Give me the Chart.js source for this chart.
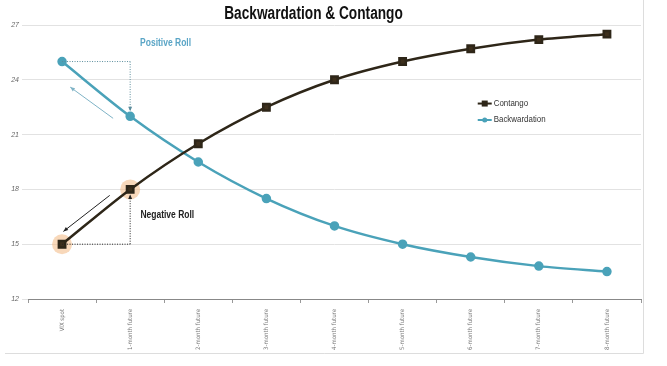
<!DOCTYPE html>
<html>
<head>
<meta charset="utf-8">
<script src="https://cdn.jsdelivr.net/npm/chart.js@4/dist/chart.umd.min.js"></script>
<style>
  html, body { margin: 0; padding: 0; background: #fff; }
  #wrap { width: 667px; height: 366px; }
</style>
</head>
<body>
<div id="wrap"><canvas id="chart1"></canvas></div>
<script>
const categories = ["VIX spot", "1-month future", "2-month future", "3-month future", "4-month future",
  "5-month future", "6-month future", "7-month future", "8-month future"];
const contango = [15, 18, 20.5, 22.5, 24, 25, 25.7, 26.2, 26.5];
const backwardation = [25, 22, 19.5, 17.5, 16, 15, 14.3, 13.8, 13.5];
const yTicks = [12, 15, 18, 21, 24, 27];
const chartTitle = "Backwardation & Contango";

const FONT = "'Liberation Sans', 'DejaVu Sans', sans-serif";
const DARK = "#2e2618";
const TEAL = "#4aa2b9";

function arrow(ctx, x1, y1, x2, y2, color, width, head) {
  const a = Math.atan2(y2 - y1, x2 - x1);
  ctx.save();
  ctx.strokeStyle = color;
  ctx.fillStyle = color;
  ctx.lineWidth = width;
  ctx.beginPath();
  ctx.moveTo(x1, y1);
  ctx.lineTo(x2, y2);
  ctx.stroke();
  ctx.setLineDash([]);
  ctx.beginPath();
  ctx.moveTo(x2, y2);
  ctx.lineTo(x2 - head * Math.cos(a - 0.4), y2 - head * Math.sin(a - 0.4));
  ctx.lineTo(x2 - head * Math.cos(a + 0.4), y2 - head * Math.sin(a + 0.4));
  ctx.closePath();
  ctx.fill();
  ctx.restore();
}

// condensed text: squeeze horizontally a bit to mimic the narrow face of the original
function narrowText(ctx, text, x, y, sx, align) {
  ctx.save();
  ctx.translate(x, y);
  ctx.scale(sx, 1);
  ctx.textAlign = align;
  ctx.fillText(text, 0, 0);
  ctx.restore();
}

const rollNotes = {
  id: "rollNotes",
  beforeDatasetsDraw(chart) {
    const ctx = chart.ctx;
    const xs = chart.scales.x, ys = chart.scales.y;
    ctx.save();
    ctx.fillStyle = "rgba(243,190,140,0.6)";
    [0, 1].forEach(i => {
      ctx.beginPath();
      ctx.arc(xs.getPixelForValue(i), ys.getPixelForValue(contango[i]), 10, 0, Math.PI * 2);
      ctx.fill();
    });
    ctx.restore();
  },
  afterDatasetsDraw(chart) {
    const ctx = chart.ctx;
    const xs = chart.scales.x, ys = chart.scales.y;
    const x0 = xs.getPixelForValue(0), x1 = xs.getPixelForValue(1);
    const dx = x1 - x0;

    // title
    ctx.save();
    ctx.font = "bold 18px " + FONT;
    ctx.fillStyle = "#111";
    ctx.textBaseline = "alphabetic";
    narrowText(ctx, chartTitle, (chart.width - 40) / 2, 19, 0.76, "center");
    ctx.restore();

    // positive roll
    const bY0 = ys.getPixelForValue(backwardation[0]);
    const bY1 = ys.getPixelForValue(backwardation[1]);
    ctx.save();
    ctx.strokeStyle = "#5b8c9c";
    ctx.lineWidth = 1;
    ctx.setLineDash([1, 1.5]);
    ctx.beginPath();
    ctx.moveTo(x0, bY0);
    ctx.lineTo(x1, bY0);
    ctx.stroke();
    arrow(ctx, x1, bY0, x1, bY1 - 5, "#5b8c9c", 1, 5);
    ctx.restore();
    arrow(ctx, x0 + dx * 0.75, bY1 + 2, x0 + dx * 0.12, ys.getPixelForValue(23.6), "#7fb3c6", 1, 5);

    // negative roll
    const cY0 = ys.getPixelForValue(contango[0]);
    const cY1 = ys.getPixelForValue(contango[1]);
    ctx.save();
    ctx.strokeStyle = "#222";
    ctx.lineWidth = 1;
    ctx.setLineDash([1, 1.5]);
    ctx.beginPath();
    ctx.moveTo(x0, cY0);
    ctx.lineTo(x1, cY0);
    ctx.stroke();
    arrow(ctx, x1, cY0, x1, cY1 + 5, "#222", 1, 5);
    ctx.restore();
    arrow(ctx, x0 + dx * 0.7, cY1 + 6, x0 + dx * 0.02, ys.getPixelForValue(15.7), "#222", 1, 5);

    ctx.save();
    ctx.font = "bold 10px " + FONT;
    ctx.textBaseline = "middle";
    ctx.fillStyle = "#5aa5c6";
    narrowText(ctx, "Positive Roll", x0 + dx * 1.52, ys.getPixelForValue(26), 0.85, "center");
    ctx.fillStyle = "#222";
    narrowText(ctx, "Negative Roll", x0 + dx * 1.15, ys.getPixelForValue(16.6), 0.85, "left");
    ctx.restore();

    // legend
    const lx = xs.getPixelForValue(6) + 7;
    const legend = [["Contango", DARK, "rect", ys.getPixelForValue(22.7)],
                    ["Backwardation", TEAL, "circle", ys.getPixelForValue(21.8)]];
    ctx.save();
    ctx.font = "9px " + FONT;
    ctx.textBaseline = "middle";
    legend.forEach(([t, c, s, y]) => {
      ctx.strokeStyle = c;
      ctx.fillStyle = c;
      ctx.lineWidth = 2;
      ctx.beginPath();
      ctx.moveTo(lx, y);
      ctx.lineTo(lx + 14, y);
      ctx.stroke();
      if (s === "rect") ctx.fillRect(lx + 4, y - 3, 6, 6);
      else { ctx.beginPath(); ctx.arc(lx + 7, y, 2.5, 0, Math.PI * 2); ctx.fill(); }
      ctx.fillStyle = "#333";
      narrowText(ctx, t, lx + 16, y, 0.88, "left");
    });
    ctx.restore();

    // frame
    ctx.save();
    ctx.strokeStyle = "#dddddd";
    ctx.lineWidth = 1;
    ctx.beginPath();
    ctx.moveTo(5, chart.height - 12.5);
    ctx.lineTo(643.5, chart.height - 12.5);
    ctx.moveTo(643.5, 0);
    ctx.lineTo(643.5, chart.height - 12.5);
    ctx.stroke();
    ctx.restore();
  }
};

const ctx1 = document.getElementById("chart1");

new Chart(ctx1, {
  type: "line",
  data: {
    labels: categories,
    datasets: [
      {
        label: "Contango",
        data: contango,
        borderColor: DARK,
        backgroundColor: "#3d2f1c",
        borderWidth: 2.5,
        pointStyle: "rect",
        pointRadius: 4.5,
        pointHoverRadius: 4.5,
        tension: 0.3,
      },
      {
        label: "Backwardation",
        data: backwardation,
        borderColor: TEAL,
        backgroundColor: TEAL,
        borderWidth: 2.5,
        pointStyle: "circle",
        pointRadius: 3.5,
        pointHoverRadius: 3.5,
        tension: 0.3,
      },
    ],
  },
  options: {
    responsive: true,
    maintainAspectRatio: false,
    animation: false,
    events: [],
    layout: { padding: { left: 0, right: 26, top: 25, bottom: 0 } },
    plugins: {
      legend: { display: false },
      tooltip: { enabled: false },
      title: { display: false },
    },
    scales: {
      x: {
        offset: true,
        grid: { display: true, drawOnChartArea: false, drawTicks: true, tickLength: 4, offset: true, color: "#999" },
        border: { color: "#888", width: 1 },
        ticks: {
          color: "#777",
          font: { family: "'DejaVu Sans Condensed', " + FONT, size: 6 },
          minRotation: 90,
          maxRotation: 90,
          padding: 6,
        },
        afterFit(scale) { scale.height = 67; },
      },
      y: {
        min: 12,
        max: 27,
        afterBuildTicks(scale) { scale.ticks = yTicks.map(v => ({ value: v })); },
        grid: { color: "#e2e2e2", drawTicks: true, tickLength: 6 },
        border: { display: false },
        ticks: {
          color: "#666",
          font: { family: FONT, size: 7, style: "italic" },
          padding: 3,
        },
        afterFit(scale) { scale.width = 28; },
      },
    },
  },
  plugins: [rollNotes],
});
</script>
</body>
</html>
